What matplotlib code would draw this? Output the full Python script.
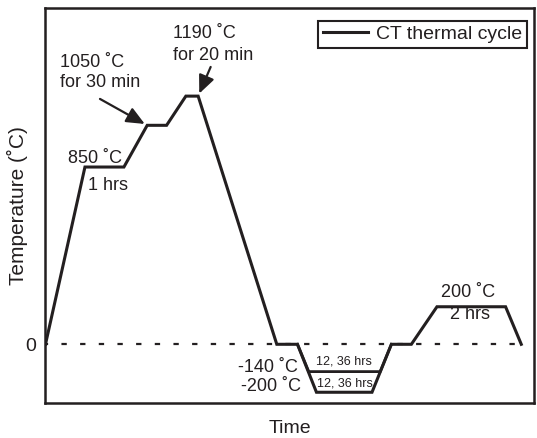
import matplotlib
matplotlib.use("Agg")
import matplotlib.pyplot as plt

plt.rcParams['font.family'] = ['Liberation Sans', 'DejaVu Sans']

ink = '#231f20'

# schematic cycle, time in arbitrary units, temperature axis not to scale
t_main = [0, 3.95, 7.85, 10.18, 12.12, 14.05, 15.28, 23.15, 25.22, 27.12, 32.68, 34.62, 36.62, 39.18, 46.05, 47.62]
T_main = [0, 850, 850, 1050, 1050, 1190, 1190, 0, 0, -230, -230, 0, 0, 180, 180, 0]
t_alt = [25.22, 26.35, 33.5, 34.62]
T_alt = [0, -131, -131, 0]

fig = plt.figure(figsize=(5.37, 4.38), dpi=100)
ax = fig.add_axes([0.0847, 0.0792, 0.9089, 0.9018])

ax.plot([0, t_main[-1]], [0, 0], color=ink, lw=1.6, linestyle=(1.0, (2.4, 6.0)))
ax.plot(t_main, T_main, color=ink, lw=2.2, solid_joinstyle='miter', label='CT thermal cycle')
ax.plot(t_alt, T_alt, color=ink, lw=2.0, solid_joinstyle='miter')

ax.set_xlim(0, 48.85)
ax.set_ylim(-283, 1611)
ax.set_xticks([])
ax.set_yticks([0])
ax.tick_params(axis='y', length=0, pad=7, labelsize=14, colors=ink)
for s in ax.spines.values():
    s.set_linewidth(1.8)
    s.set_color(ink)

ax.set_xlabel('Time', fontsize=14, color=ink, labelpad=12)
ax.set_ylabel('Temperature (˚C)', fontsize=15, color=ink)
ax.yaxis.set_label_coords(-0.035, 0.5)

fs = 13
ax.text(2.25, 868, '850 ˚C', fontsize=fs, color=ink)
ax.text(4.22, 740, '1 hrs', fontsize=fs, color=ink)
ax.text(1.45, 1331, '1050 ˚C', fontsize=fs, color=ink)
ax.text(1.45, 1232, 'for 30 min', fontsize=fs, color=ink)
ax.text(12.72, 1470, '1190 ˚C', fontsize=fs, color=ink)
ax.text(12.72, 1363, 'for 20 min', fontsize=fs, color=ink)
ax.text(39.62, 228, '200 ˚C', fontsize=fs, color=ink)
ax.text(40.45, 120, '2 hrs', fontsize=fs, color=ink)
ax.text(25.22, -131, '-140 ˚C', fontsize=fs, color=ink, ha='right')
ax.text(25.62, -224, '-200 ˚C', fontsize=fs, color=ink, ha='right')
ax.text(29.85, -96, '12, 36 hrs', fontsize=9, color=ink, ha='center')
ax.text(30.0, -200, '12, 36 hrs', fontsize=9, color=ink, ha='center')

arrow = dict(arrowstyle='-|>,head_length=0.5,head_width=0.22', color=ink, lw=1.6,
             mutation_scale=22, shrinkA=0, shrinkB=2)
ax.annotate('', xy=(t_main[3], T_main[3]), xytext=(-34, 19), textcoords='offset points', arrowprops=arrow)
ax.annotate('', xy=(t_main[6], T_main[6]), xytext=(9, 21), textcoords='offset points', arrowprops=arrow)

leg = ax.legend(loc='upper right', bbox_to_anchor=(0.9857, 0.9686), borderaxespad=0,
                fontsize=14, handlelength=2.3, handletextpad=0.4, borderpad=0.25,
                fancybox=False, framealpha=1, edgecolor=ink)
leg.get_frame().set_linewidth(1.5)
for txt in leg.get_texts():
    txt.set_color(ink)

fig.savefig('out.png', dpi=100)
